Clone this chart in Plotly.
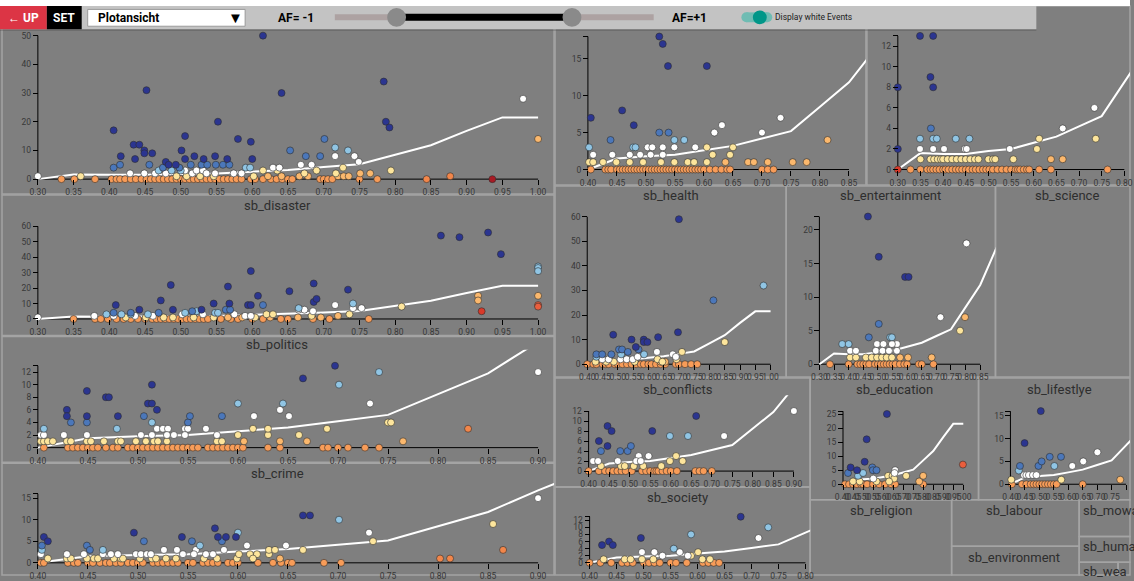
import plotly.graph_objects as go

W, H = 1134, 581

# ---------------- data ----------------
# trend curve shared by all panels
TREND_X = [0.30, 0.35, 0.40, 0.45, 0.50, 0.55, 0.60, 0.65, 0.70, 0.75, 0.80, 0.85, 0.90, 0.95, 1.00]
TREND_Y = [0.0, 1.6, 1.5, 1.5, 1.8, 2.0, 2.6, 3.2, 4.2, 5.2, 8.5, 11.8, 16.8, 21.5, 21.5]

# points as (x, y, colour class); *_ZERO lists hold the orange events at y = 0
TL_PTS = [
    (0.406, 17, 'n'), (0.416, 8, 'n'), (0.434, 12, 'n'), (0.436, 7, 'n'), (0.442, 12, 'n'), (0.449, 10, 'n'),
    (0.449, 9, 'n'), (0.452, 31, 'n'), (0.460, 9, 'n'), (0.479, 6, 'n'), (0.483, 5, 'n'), (0.493, 5, 'n'),
    (0.501, 10, 'n'), (0.506, 15, 'n'), (0.506, 7, 'n'), (0.519, 8, 'n'), (0.532, 7, 'n'), (0.548, 8, 'n'),
    (0.552, 20, 'n'), (0.565, 7, 'n'), (0.580, 14, 'n'), (0.598, 13, 'n'), (0.600, 7, 'n'), (0.615, 50, 'n'),
    (0.641, 30, 'n'), (0.784, 34, 'n'), (0.787, 20, 'n'), (0.792, 18, 'n'),
    (0.406, 4, 'b'), (0.415, 5, 'b'), (0.456, 5, 'b'), (0.475, 4, 'b'), (0.498, 4, 'b'), (0.514, 5, 'b'),
    (0.529, 5, 'b'), (0.537, 5, 'b'), (0.549, 5, 'b'), (0.559, 5, 'b'), (0.568, 5, 'b'), (0.653, 10, 'b'),
    (0.675, 8, 'b'), (0.695, 8, 'b'), (0.701, 14, 'b'),
    (0.469, 3, 'l'), (0.487, 3, 'l'), (0.500, 3, 'l'), (0.591, 4, 'l'), (0.597, 4, 'l'), (0.716, 11, 'l'), (0.734, 10, 'l'),
    (0.300, 1, 'w'), (0.429, 2, 'w'), (0.449, 2, 'w'), (0.464, 2, 'w'), (0.479, 2, 'w'), (0.506, 3, 'w'),
    (0.516, 2, 'w'), (0.522, 3, 'w'), (0.531, 3, 'w'), (0.536, 2, 'w'), (0.548, 2, 'w'), (0.574, 2, 'w'),
    (0.585, 2, 'w'), (0.629, 4, 'w'), (0.638, 4, 'w'), (0.668, 5, 'w'), (0.683, 5, 'w'), (0.716, 8, 'w'),
    (0.743, 8, 'w'), (0.749, 6, 'w'), (0.979, 28, 'w'),
    (0.360, 1, 'y'), (0.494, 1, 'y'), (0.508, 1, 'y'), (0.527, 1, 'y'), (0.546, 1, 'y'), (0.602, 1, 'y'),
    (0.615, 3, 'y'), (0.635, 3, 'y'), (0.673, 2, 'y'), (0.690, 3, 'y'), (0.717, 2, 'y'), (0.727, 4, 'y'), (0.794, 3, 'y'),
    (0.622, 1, 'p'), (0.641, 1, 'p'), (0.666, 1, 'p'), (0.678, 1, 'p'), (0.720, 1, 'p'), (0.728, 1, 'p'),
    (0.735, 1, 'p'), (0.751, 2, 'p'), (0.765, 2, 'p'), (1.000, 14, 'p'),
    (0.844, 0, 'q'), (0.877, 1, 'q'), (0.936, 0, 'D'),
]
TL_ZERO = [0.333, 0.351, 0.380, 0.403, 0.410, 0.415, 0.422, 0.430, 0.437, 0.445, 0.452, 0.458, 0.464, 0.470,
           0.476, 0.482, 0.488, 0.494, 0.500, 0.506, 0.512, 0.518, 0.524, 0.530, 0.536, 0.542, 0.548, 0.554,
           0.560, 0.566, 0.572, 0.578, 0.585, 0.598, 0.604, 0.615, 0.626, 0.634, 0.642, 0.650, 0.656, 0.695,
           0.700, 0.706, 0.712, 0.750, 0.775]

DISASTER_PTS = [
    (0.409, 9, 'n'), (0.442, 6, 'n'), (0.472, 12, 'n'), (0.486, 22, 'n'), (0.489, 6, 'n'), (0.529, 6, 'n'),
    (0.546, 10, 'n'), (0.566, 21, 'n'), (0.568, 10, 'n'), (0.594, 9, 'n'), (0.598, 9, 'n'), (0.598, 31, 'n'),
    (0.608, 15, 'n'), (0.652, 18, 'n'), (0.686, 23, 'n'), (0.686, 11, 'n'), (0.690, 13, 'n'), (0.734, 19, 'n'),
    (0.864, 54, 'n'), (0.890, 53, 'n'), (0.930, 56, 'n'), (0.948, 42, 'n'),
    (0.406, 4, 'b'), (0.430, 4, 'b'), (0.469, 4, 'b'), (0.516, 5, 'b'), (0.563, 6, 'b'), (0.569, 6, 'b'), (0.615, 9, 'b'),
    (0.396, 3, 'l'), (0.417, 3, 'l'), (0.430, 3, 'l'), (0.454, 3, 'l'), (0.506, 4, 'l'), (0.522, 5, 'l'),
    (0.548, 4, 'l'), (0.552, 4, 'l'), (0.665, 7, 'l'), (0.741, 10, 'l'), (1.000, 34, 'l'), (1.000, 33, 'l'), (1.000, 31, 'l'),
    (0.300, 1, 'w'), (0.379, 2, 'w'), (0.406, 2, 'w'), (0.436, 2, 'w'), (0.461, 2, 'w'), (0.502, 3, 'w'),
    (0.531, 3, 'w'), (0.575, 3, 'w'), (0.590, 2, 'w'), (0.598, 2, 'w'), (0.665, 6, 'w'), (0.673, 6, 'w'),
    (0.685, 5, 'w'), (0.716, 9, 'w'), (0.741, 7, 'w'), (0.753, 7, 'w'),
    (0.423, 1, 'y'), (0.451, 1, 'y'), (0.476, 1, 'y'), (0.489, 1, 'y'), (0.518, 1, 'y'), (0.546, 1, 'y'),
    (0.604, 1, 'y'), (0.620, 3, 'y'), (0.629, 3, 'y'), (0.683, 2, 'y'), (0.736, 3, 'y'), (0.809, 8, 'y'),
    (0.566, 1, 'p'), (0.586, 1, 'p'), (0.625, 1, 'p'), (0.664, 1, 'p'), (0.696, 1, 'p'), (0.720, 2, 'p'),
    (0.916, 15, 'p'), (0.916, 12, 'p'), (1.000, 15, 'p'),
    (1.000, 9, 'r'), (1.000, 8, 'r'), (0.921, 5, 'R'),
]
DISASTER_ZERO = [0.350, 0.380, 0.388, 0.398, 0.410, 0.420, 0.430, 0.440, 0.450, 0.460, 0.466, 0.472, 0.478,
                 0.484, 0.490, 0.496, 0.502, 0.508, 0.514, 0.520, 0.526, 0.532, 0.538, 0.556, 0.570, 0.580,
                 0.600, 0.615, 0.640, 0.650, 0.685, 0.708, 0.763]

POLITICS_PTS = [
    (0.429, 6, 'n'), (0.429, 5, 'n'), (0.449, 9, 'n'), (0.449, 5, 'n'), (0.468, 8, 'n'), (0.471, 8, 'n'),
    (0.480, 5, 'n'), (0.510, 7, 'n'), (0.514, 7, 'n'), (0.514, 10, 'n'), (0.519, 6, 'n'), (0.665, 11, 'n'), (0.697, 13, 'n'),
    (0.433, 4, 'b'), (0.449, 4, 'b'), (0.506, 5, 'b'), (0.550, 4, 'b'), (0.552, 5, 'b'), (0.584, 5, 'b'),
    (0.406, 3, 'l'), (0.479, 3, 'l'), (0.514, 4, 'l'), (0.600, 7, 'l'), (0.645, 7, 'l'), (0.701, 10, 'l'), (0.741, 12, 'l'),
    (0.403, 2, 'w'), (0.406, 2, 'w'), (0.426, 2, 'w'), (0.449, 2, 'w'), (0.503, 2, 'w'), (0.514, 2, 'w'),
    (0.519, 3, 'w'), (0.525, 3, 'w'), (0.530, 3, 'w'), (0.529, 2, 'w'), (0.536, 2, 'w'), (0.547, 3, 'w'),
    (0.550, 3, 'w'), (0.547, 2, 'w'), (0.568, 3, 'w'), (0.579, 2, 'w'), (0.616, 5, 'w'), (0.642, 6, 'w'),
    (0.651, 5, 'w'), (0.732, 7, 'w'), (0.900, 12, 'w'),
    (0.403, 1, 'y'), (0.406, 1, 'y'), (0.410, 1, 'y'), (0.415, 1, 'y'), (0.429, 1, 'y'), (0.433, 1, 'y'),
    (0.449, 1, 'y'), (0.453, 1, 'y'), (0.466, 1, 'y'), (0.480, 1, 'y'), (0.483, 1, 'y'), (0.498, 1, 'y'),
    (0.508, 1, 'y'), (0.516, 1, 'y'), (0.520, 1, 'y'), (0.529, 1, 'y'), (0.579, 1, 'y'), (0.584, 1, 'y'),
    (0.600, 2, 'y'), (0.615, 3, 'y'), (0.630, 2, 'y'), (0.630, 3, 'y'), (0.661, 2, 'y'), (0.689, 3, 'y'),
    (0.750, 4, 'y'), (0.753, 4, 'y'),
    (0.606, 1, 'p'), (0.642, 1, 'p'), (0.669, 1, 'p'), (0.765, 1, 'p'), (0.830, 3, 'q'),
]
POLITICS_ZERO = [0.406, 0.430, 0.435, 0.440, 0.445, 0.450, 0.455, 0.460, 0.468, 0.475, 0.480, 0.490, 0.495,
                 0.500, 0.505, 0.510, 0.515, 0.520, 0.525, 0.530, 0.535, 0.540, 0.545, 0.550, 0.555, 0.560,
                 0.570, 0.575, 0.580, 0.585, 0.590, 0.595, 0.600, 0.605, 0.630, 0.642, 0.685, 0.690, 0.700,
                 0.710, 0.727, 0.741]

CRIME_PTS = [
    (0.406, 6, 'n'), (0.410, 5, 'n'), (0.496, 7, 'n'), (0.544, 6, 'n'), (0.577, 8, 'n'), (0.580, 6, 'n'),
    (0.588, 6, 'n'), (0.598, 6, 'n'), (0.665, 11, 'n'), (0.672, 11, 'n'),
    (0.404, 4, 'b'), (0.449, 4, 'b'), (0.452, 3, 'b'), (0.506, 5, 'b'), (0.554, 5, 'b'), (0.584, 5, 'b'),
    (0.404, 3, 'l'), (0.465, 3, 'l'), (0.562, 4, 'l'), (0.600, 7, 'l'), (0.701, 10, 'l'),
    (0.403, 2, 'w'), (0.429, 2, 'w'), (0.446, 2, 'w'), (0.465, 2, 'w'), (0.473, 2, 'w'), (0.480, 2, 'w'),
    (0.498, 2, 'w'), (0.503, 2, 'w'), (0.509, 2, 'w'), (0.513, 2, 'w'), (0.526, 3, 'w'), (0.539, 3, 'w'),
    (0.545, 2, 'w'), (0.558, 3, 'w'), (0.556, 2, 'w'), (0.568, 2, 'w'), (0.575, 2, 'w'), (0.586, 3, 'w'),
    (0.609, 4, 'w'), (0.648, 4, 'w'), (0.731, 7, 'w'), (0.900, 15, 'w'),
    (0.410, 1, 'y'), (0.429, 1, 'y'), (0.433, 1, 'y'), (0.449, 1, 'y'), (0.456, 1, 'y'), (0.460, 1, 'y'),
    (0.476, 1, 'y'), (0.483, 1, 'y'), (0.485, 1, 'y'), (0.502, 1, 'y'), (0.514, 1, 'y'), (0.518, 1, 'y'),
    (0.528, 1, 'y'), (0.538, 1, 'y'), (0.566, 1, 'y'), (0.579, 1, 'y'), (0.599, 1, 'y'), (0.601, 2, 'y'),
    (0.612, 2, 'y'), (0.619, 2, 'y'), (0.615, 1, 'y'), (0.631, 2, 'y'), (0.631, 3, 'y'), (0.637, 3, 'y'),
    (0.665, 3, 'y'), (0.735, 5, 'y'), (0.855, 9, 'y'),
    (0.642, 1, 'p'), (0.802, 1, 'q'), (0.812, 1, 'q'), (0.865, 3, 'q'),
]
CRIME_ZERO = [0.403, 0.406, 0.430, 0.436, 0.440, 0.450, 0.455, 0.462, 0.468, 0.472, 0.478, 0.483, 0.490,
              0.495, 0.500, 0.505, 0.515, 0.520, 0.525, 0.530, 0.535, 0.540, 0.550, 0.555, 0.565, 0.570,
              0.575, 0.580, 0.590, 0.595, 0.600, 0.620, 0.635, 0.643, 0.650, 0.654, 0.686, 0.703]

TM_PTS = [
    (0.405, 7, 'n'), (0.459, 8, 'n'), (0.479, 6, 'n'), (0.523, 18, 'n'), (0.529, 17, 'n'), (0.538, 14, 'n'), (0.605, 14, 'n'),
    (0.439, 4, 'b'), (0.523, 5, 'b'), (0.539, 5, 'b'),
    (0.402, 3, 'l'), (0.478, 3, 'l'), (0.482, 3, 'l'), (0.549, 4, 'l'), (0.566, 4, 'l'),
    (0.409, 2, 'w'), (0.442, 2, 'w'), (0.472, 2, 'w'), (0.490, 2, 'w'), (0.503, 3, 'w'), (0.511, 3, 'w'),
    (0.508, 2, 'w'), (0.529, 3, 'w'), (0.529, 2, 'w'), (0.549, 3, 'w'), (0.585, 3, 'w'), (0.618, 5, 'w'),
    (0.631, 6, 'w'), (0.700, 5, 'w'), (0.732, 7, 'w'),
    (0.402, 1, 'y'), (0.409, 1, 'y'), (0.426, 1, 'y'), (0.449, 1, 'y'), (0.472, 1, 'y'), (0.495, 1, 'y'),
    (0.526, 1, 'y'), (0.549, 1, 'y'), (0.572, 1, 'y'), (0.583, 1, 'y'), (0.605, 3, 'y'), (0.605, 1, 'y'),
    (0.615, 2, 'y'), (0.645, 2, 'y'), (0.650, 3, 'y'),
    (0.637, 1, 'p'), (0.676, 1, 'p'), (0.686, 1, 'p'), (0.710, 1, 'p'), (0.753, 1, 'p'), (0.777, 1, 'p'), (0.813, 4, 'p'),
]
TM_ZERO = [0.405, 0.430, 0.435, 0.440, 0.450, 0.455, 0.460, 0.465, 0.470, 0.475, 0.480, 0.485, 0.490, 0.495,
           0.500, 0.505, 0.510, 0.515, 0.520, 0.525, 0.530, 0.535, 0.540, 0.545, 0.550, 0.555, 0.560, 0.565,
           0.570, 0.575, 0.580, 0.585, 0.590, 0.595, 0.600, 0.610, 0.620, 0.630, 0.640, 0.645, 0.700, 0.710, 0.720]

TR_PTS = [
    (0.300, 8, 'n'), (0.300, 2, 'n'), (0.349, 13, 'n'), (0.378, 13, 'n'), (0.372, 9, 'n'), (0.378, 8, 'n'),
    (0.373, 4, 'b'),
    (0.349, 3, 'l'), (0.378, 3, 'l'), (0.386, 3, 'l'), (0.428, 3, 'l'), (0.458, 3, 'l'),
    (0.349, 2, 'w'), (0.378, 2, 'w'), (0.402, 2, 'w'), (0.448, 2, 'w'), (0.452, 2, 'w'), (0.547, 2, 'w'),
    (0.664, 4, 'w'), (0.734, 6, 'w'),
    (0.350, 1, 'y'), (0.372, 1, 'y'), (0.380, 1, 'y'), (0.388, 1, 'y'), (0.395, 1, 'y'), (0.400, 1, 'y'),
    (0.410, 1, 'y'), (0.420, 1, 'y'), (0.430, 1, 'y'), (0.440, 1, 'y'), (0.450, 1, 'y'), (0.460, 1, 'y'),
    (0.470, 1, 'y'), (0.478, 1, 'y'), (0.500, 1, 'y'), (0.510, 1, 'y'), (0.515, 1, 'y'), (0.555, 1, 'y'),
    (0.607, 2, 'y'), (0.612, 3, 'y'), (0.737, 3, 'y'),
    (0.638, 1, 'p'), (0.664, 1, 'p'), (0.300, 0, 'R'),
]
TR_ZERO = [0.328, 0.350, 0.365, 0.372, 0.378, 0.385, 0.392, 0.400, 0.405, 0.412, 0.420, 0.428, 0.435, 0.442,
           0.450, 0.457, 0.465, 0.472, 0.480, 0.488, 0.495, 0.502, 0.510, 0.520, 0.530, 0.540, 0.550, 0.560,
           0.565, 0.570, 0.578, 0.585, 0.590, 0.612, 0.638, 0.763]

HEALTH_PTS = [
    (0.485, 12, 'n'), (0.545, 10, 'n'), (0.559, 7, 'n'), (0.585, 10, 'n'), (0.585, 9, 'n'), (0.597, 9, 'n'),
    (0.632, 11, 'n'), (0.697, 13, 'n'), (0.700, 59, 'n'),
    (0.504, 6, 'b'), (0.514, 6, 'b'), (0.533, 5, 'b'), (0.568, 6, 'b'), (0.430, 4, 'b'), (0.449, 4, 'b'),
    (0.479, 4, 'b'), (0.813, 26, 'b'),
    (0.430, 3, 'l'), (0.511, 4, 'l'), (0.586, 4, 'l'), (0.977, 32, 'l'),
    (0.449, 2, 'w'), (0.470, 2, 'w'), (0.509, 2, 'w'), (0.529, 2, 'w'), (0.549, 2, 'w'), (0.565, 3, 'w'),
    (0.628, 5, 'w'), (0.680, 4, 'w'), (0.690, 3, 'w'),
    (0.427, 1, 'y'), (0.462, 1, 'y'), (0.487, 1, 'y'), (0.555, 1, 'y'), (0.630, 2, 'y'), (0.646, 1, 'y'),
    (0.710, 5, 'y'), (0.692, 2, 'y'), (0.850, 9, 'y'),
    (0.640, 1, 'p'), (0.655, 1, 'p'),
]
HEALTH_ZERO = [0.400, 0.420, 0.430, 0.450, 0.460, 0.470, 0.490, 0.500, 0.515, 0.530, 0.545, 0.560, 0.575,
               0.585, 0.600, 0.610, 0.625, 0.640, 0.655, 0.690, 0.700, 0.720, 0.740, 0.760]

ENT_PTS = [
    (0.466, 22, 'n'), (0.503, 16, 'n'), (0.593, 13, 'n'), (0.605, 13, 'n'),
    (0.503, 6, 'b'), (0.469, 4, 'b'),
    (0.378, 3, 'l'), (0.400, 3, 'l'), (0.542, 4, 'l'), (0.548, 4, 'l'),
    (0.405, 2, 'w'), (0.425, 2, 'w'), (0.497, 3, 'w'), (0.519, 3, 'w'), (0.493, 2, 'w'), (0.516, 2, 'w'),
    (0.538, 2, 'w'), (0.565, 3, 'w'), (0.565, 2, 'w'), (0.548, 3, 'w'), (0.714, 7, 'w'), (0.803, 18, 'w'),
    (0.405, 1, 'y'), (0.425, 1, 'y'), (0.459, 1, 'y'), (0.479, 1, 'y'), (0.497, 1, 'y'), (0.514, 1, 'y'),
    (0.530, 1, 'y'), (0.548, 1, 'y'), (0.781, 5, 'y'),
    (0.576, 1, 'p'), (0.603, 1, 'p'), (0.684, 1, 'p'), (0.798, 7, 'p'),
]
ENT_ZERO = [0.336, 0.400, 0.430, 0.440, 0.450, 0.460, 0.470, 0.490, 0.500, 0.510, 0.520, 0.530, 0.540,
            0.550, 0.560, 0.575, 0.590, 0.600, 0.640, 0.650, 0.690]

CONFLICTS_PTS = [
    (0.425, 6, 'n'), (0.446, 9, 'n'), (0.446, 5, 'n'), (0.456, 8, 'n'), (0.555, 8, 'n'), (0.662, 11, 'n'),
    (0.430, 4, 'b'), (0.477, 4, 'b'), (0.495, 4, 'b'), (0.503, 5, 'b'),
    (0.598, 7, 'l'), (0.642, 7, 'l'),
    (0.411, 2, 'w'), (0.423, 2, 'w'), (0.471, 2, 'w'), (0.522, 3, 'w'), (0.516, 2, 'w'), (0.527, 2, 'w'),
    (0.546, 3, 'w'), (0.730, 7, 'w'), (0.900, 12, 'w'),
    (0.430, 1, 'y'), (0.479, 1, 'y'), (0.488, 1, 'y'), (0.510, 1, 'y'), (0.533, 1, 'y'), (0.577, 1, 'y'),
    (0.598, 2, 'y'), (0.613, 3, 'y'), (0.629, 2, 'y'),
]
CONFLICTS_ZERO = [0.400, 0.425, 0.440, 0.450, 0.460, 0.470, 0.480, 0.490, 0.505, 0.530, 0.540, 0.550, 0.560,
                  0.565, 0.570, 0.580, 0.590, 0.600, 0.615, 0.660, 0.670, 0.680, 0.700]

SOCIETY_PTS = [
    (0.423, 5, 'n'), (0.436, 6, 'n'), (0.443, 5, 'n'), (0.495, 7, 'n'), (0.680, 13, 'n'),
    (0.556, 4, 'l'), (0.588, 8, 'l'), (0.731, 10, 'l'),
    (0.497, 3, 'w'), (0.520, 3, 'w'), (0.535, 2, 'w'), (0.567, 3, 'w'), (0.582, 2, 'w'), (0.713, 7, 'w'),
    (0.426, 1, 'y'), (0.465, 1, 'y'), (0.476, 1, 'y'), (0.497, 1, 'y'), (0.518, 1, 'y'), (0.588, 2, 'y'),
    (0.601, 3, 'y'), (0.609, 1, 'y'), (0.623, 1, 'y'),
]
SOCIETY_ZERO = [0.400, 0.420, 0.440, 0.460, 0.470, 0.480, 0.500, 0.510, 0.520, 0.530, 0.550, 0.560, 0.580,
                0.610, 0.620, 0.630, 0.640]

EDUCATION_PTS = [
    (0.438, 6, 'n'), (0.470, 5, 'n'), (0.508, 8, 'n'), (0.518, 16, 'n'), (0.619, 25, 'n'),
    (0.425, 4, 'b'), (0.546, 6, 'b'), (0.549, 5, 'b'), (0.567, 5, 'b'),
    (0.475, 3, 'l'), (0.500, 4, 'l'),
    (0.551, 2, 'w'), (0.660, 5, 'w'), (0.657, 4, 'w'),
    (0.450, 1, 'y'), (0.483, 1, 'y'), (0.625, 3, 'y'), (0.647, 3, 'y'), (0.655, 2, 'y'), (0.715, 3, 'y'),
    (0.567, 1, 'y'), (0.630, 1, 'y'),
    (0.780, 1, 'p'), (0.800, 3, 'p'), (0.998, 7, 'r'),
]
EDUCATION_ZERO = [0.410, 0.430, 0.450, 0.470, 0.490, 0.500, 0.520, 0.550, 0.580, 0.610, 0.640, 0.660, 0.800]

LIFESTYLE_PTS = [
    (0.449, 9, 'n'), (0.505, 16, 'n'),
    (0.433, 4, 'b'), (0.497, 4, 'b'), (0.508, 5, 'b'), (0.536, 6, 'b'), (0.575, 6, 'b'),
    (0.429, 3, 'l'), (0.552, 4, 'l'),
    (0.447, 2, 'w'), (0.455, 2, 'w'), (0.464, 2, 'w'), (0.478, 2, 'w'), (0.490, 2, 'w'), (0.614, 4, 'w'),
    (0.652, 5, 'w'), (0.701, 7, 'w'),
    (0.403, 1, 'y'), (0.576, 1, 'y'), (0.780, 1, 'p'),
]
LIFESTYLE_ZERO = [0.405, 0.440, 0.455, 0.470, 0.480, 0.490, 0.500, 0.510, 0.520, 0.530, 0.540, 0.550, 0.560, 0.650]

# ---------------- styling ----------------
CLS_COLOR = {'o': '#f89c58', 'q': '#f2864a', 'p': '#fbb86d', 'y': '#fde59c', 'w': '#ffffff',
             'l': '#90c5e4', 'b': '#4b77ba', 'n': '#2b3590', 'r': '#ea5e3d', 'R': '#d93a2a', 'D': '#a81a24'}
CLS_ORDER = ['o', 'q', 'p', 'y', 'w', 'l', 'b', 'n', 'r', 'R', 'D']

BG = '#7f7f7f'
BORDER = '#a4a4a4'
FONT = 'Roboto'

# plot panels: panel rect (px), clip top, x axis pixels, y axis pixels (y=0, y=ymax)
PLOTS = [
    dict(pts=TL_PTS, zero=TL_ZERO, rect=(2, 6, 556, 196), clip=29, ax=(38, 540), ay=(181, 36),
         xr=(0.30, 1.00), ymax=50, ystep=10, title=None),
    dict(pts=DISASTER_PTS, zero=DISASTER_ZERO, rect=(2, 197, 556, 339), clip=213, ax=(38, 540), ay=(322.3, 228.7),
         xr=(0.30, 1.00), ymax=60, ystep=10, title='sb_disaster'),
    dict(pts=POLITICS_PTS, zero=POLITICS_ZERO, rect=(2, 340, 556, 467), clip=353.5, ax=(38, 540), ay=(452.3, 369.6),
         xr=(0.40, 0.90), ymax=13, ystep=2, title='sb_politics'),
    dict(pts=CRIME_PTS, zero=CRIME_ZERO, rect=(2, 468, 556, 581), clip=483.5, ax=(38, 540), ay=(568.7, 499.0),
         xr=(0.40, 0.90), ymax=16, ystep=5, title='sb_crime'),
    dict(pts=TM_PTS, zero=TM_ZERO, rect=(557, 6, 869, 187), clip=29, ax=(590, 852), ay=(171.3, 36.9),
         xr=(0.40, 0.85), ymax=18, ystep=5, title=None),
    dict(pts=TR_PTS, zero=TR_ZERO, rect=(870, 6, 1134, 187), clip=29, ax=(901, 1128.3), ay=(171.3, 36.3),
         xr=(0.30, 0.80), ymax=13, ystep=2, title=None),
    dict(pts=HEALTH_PTS, zero=HEALTH_ZERO, rect=(557, 188, 789, 381), clip=204, ax=(589.3, 773.3), ay=(368, 219),
         xr=(0.40, 1.00), ymax=60, ystep=10, title='sb_health'),
    dict(pts=ENT_PTS, zero=ENT_ZERO, rect=(789, 188, 999, 381), clip=204, ax=(822.3, 983.7), ay=(368, 218.8),
         xr=(0.30, 0.85), ymax=22, ystep=5, title='sb_entertainment'),
    dict(pts=CONFLICTS_PTS, zero=CONFLICTS_ZERO, rect=(557, 382, 813, 492), clip=399.5, ax=(590.7, 796.7), ay=(476, 415.3),
         xr=(0.40, 0.90), ymax=12, ystep=2, title='sb_conflicts'),
    dict(pts=SOCIETY_PTS, zero=SOCIETY_ZERO, rect=(557, 492, 813, 581), clip=508, ax=(591.7, 808.3), ay=(568.7, 522.1),
         xr=(0.40, 0.80), ymax=13, ystep=2, title='sb_society'),
    dict(pts=EDUCATION_PTS, zero=EDUCATION_ZERO, rect=(813, 382, 982, 505), clip=399.5, ax=(846, 966.7), ay=(489.3, 415.5),
         xr=(0.40, 1.00), ymax=26, ystep=5, title='sb_education'),
    dict(pts=LIFESTYLE_PTS, zero=LIFESTYLE_ZERO, rect=(982, 382, 1134, 505), clip=399.5, ax=(1014, 1130), ay=(489.3, 415.4),
         xr=(0.40, 0.80), ymax=16, ystep=5, title='sb_lifestlye'),
]

TITLE_POS = {'sb_disaster': (278, 207.5), 'sb_politics': (278, 348.5), 'sb_crime': (278, 478),
             'sb_health': (673, 198), 'sb_entertainment': (894, 198), 'sb_conflicts': (680, 394),
             'sb_society': (680, 502.5), 'sb_education': (898, 394), 'sb_lifestlye': (1063, 394)}

# empty treemap cells: rect and title
EMPTY_CELLS = [
    ((999, 188, 1134, 381), 'sb_science', (1071, 198), 'center'),
    ((813, 505, 955, 581), 'sb_religion', (884, 516), 'center'),
    ((955, 505, 1083, 552), 'sb_labour', (1018, 516), 'center'),
    ((955, 552, 1083, 581), 'sb_environment', (1018, 563), 'center'),
    ((1083, 505, 1134, 542), 'sb_mowa', (1085, 516), 'left'),
    ((1083, 542, 1134, 568), 'sb_huma', (1085, 552), 'left'),
    ((1083, 568, 1122, 581), 'sb_wea', (1085, 577.5), 'left'),
    ((1122, 568, 1134, 581), '', (0, 0), 'left'),
]


def fx(x):
    return x / W


def fy(y):
    return 1 - y / H


fig = go.Figure()
shapes = []
annotations = []
layout_axes = {}

for i, p in enumerate(PLOTS, start=1):
    sx = '' if i == 1 else str(i)
    x0, y0, x1, y1 = p['rect']
    cy0 = p['clip']
    ax0, ax1 = p['ax']
    ay0, ayt = p['ay']
    xmin, xmax = p['xr']
    ymax = p['ymax']
    kx = (xmax - xmin) / (ax1 - ax0)
    ky = ymax / (ay0 - ayt)
    xrange = [xmin + (x0 - ax0) * kx, xmin + (x1 - ax0) * kx]
    yrange = [(ay0 - y1) * ky, (ay0 - cy0) * ky]

    nx = int(round((xmax - xmin) / 0.05))
    xt = [round(xmin + 0.05 * k, 2) for k in range(nx + 1)]
    yt = list(range(0, int(ymax) + 1, p['ystep']))
    ytt = [str(v) for v in yt]
    if yt[-1] != ymax:
        yt.append(ymax)
        ytt.append('')

    common = dict(showgrid=False, zeroline=False, showline=False, ticks='outside', ticklen=5,
                  tickwidth=1, tickcolor='#000000', tickfont=dict(family=FONT, size=8.5, color='#383838'),
                  tickmode='array', fixedrange=True, anchor='free')
    layout_axes['xaxis' + sx] = dict(common, domain=[fx(x0), fx(x1)], range=xrange, position=fy(ay0),
                                     tickvals=xt, ticktext=[f'{v:.2f}' for v in xt], tickangle=0)
    layout_axes['yaxis' + sx] = dict(common, domain=[fy(y1), fy(cy0)], range=yrange, position=fx(ax0),
                                     tickvals=yt, ticktext=ytt)

    xref, yref = 'x' + sx, 'y' + sx
    # axis domain lines
    shapes.append(dict(type='line', xref=xref, yref=yref, x0=xmin, x1=xmax, y0=0, y1=0,
                       line=dict(color='#000000', width=1), layer='below'))
    shapes.append(dict(type='line', xref=xref, yref=yref, x0=xmin, x1=xmin, y0=0, y1=ymax,
                       line=dict(color='#000000', width=1), layer='below'))

    # white trend line
    lx = [xmin] + [x for x in TREND_X if x > xmin + 1e-9]
    ly = [0.0] + [y for x, y in zip(TREND_X, TREND_Y) if x > xmin + 1e-9]
    fig.add_trace(go.Scatter(x=lx, y=ly, mode='lines', xaxis=xref, yaxis=yref,
                             line=dict(color='#ffffff', width=2), hoverinfo='skip', showlegend=False))

    # events
    pts = [(x, 0, 'o') for x in p['zero']] + list(p['pts'])
    pts.sort(key=lambda t: CLS_ORDER.index(t[2]))
    fig.add_trace(go.Scatter(
        x=[t[0] for t in pts], y=[t[1] for t in pts], mode='markers', xaxis=xref, yaxis=yref,
        marker=dict(size=7, color=[CLS_COLOR[t[2]] for t in pts],
                    line=dict(color='rgba(45,45,45,0.75)', width=0.8)),
        hoverinfo='skip', showlegend=False))

    shapes.append(dict(type='rect', xref='paper', yref='paper', x0=fx(x0), x1=fx(x1), y0=fy(y1), y1=fy(y0),
                       line=dict(color=BORDER, width=1.5), fillcolor='rgba(0,0,0,0)', layer='below'))
    if p['title']:
        tx, ty = TITLE_POS[p['title']]
        annotations.append(dict(x=fx(tx), y=fy(ty), xref='paper', yref='paper', text=p['title'],
                                showarrow=False, xanchor='center', yanchor='middle',
                                font=dict(family=FONT, size=13, color='#2e2e2e')))

for rect, name, (tx, ty), anchor in EMPTY_CELLS:
    x0, y0, x1, y1 = rect
    shapes.append(dict(type='rect', xref='paper', yref='paper', x0=fx(x0), x1=fx(x1), y0=fy(y1), y1=fy(y0),
                       line=dict(color=BORDER, width=1.5), fillcolor='rgba(0,0,0,0)', layer='below'))
    if name:
        annotations.append(dict(x=fx(tx), y=fy(ty), xref='paper', yref='paper', text=name,
                                showarrow=False, xanchor=anchor, yanchor='middle',
                                font=dict(family=FONT, size=13, color='#2e2e2e')))


# ---------------- toolbar ----------------
def rect(x0, y0, x1, y1, fill, line=None, ltype='rect'):
    return dict(type=ltype, xref='paper', yref='paper', x0=fx(x0), x1=fx(x1), y0=fy(y1), y1=fy(y0),
                fillcolor=fill, line=dict(width=0 if line is None else 1, color=line or fill), layer='above')


shapes += [
    rect(0, 0, W, 6, '#ffffff'),
    rect(0, 29.5, 1040, 31, 'rgba(60,60,60,0.35)'),
    rect(0, 6, 1040, 29.5, '#c3c3c3'),
    rect(0, 6, 47, 29.5, '#dc3545'),
    rect(47, 6, 82, 29.5, '#000000'),
    rect(88, 9.5, 246, 26.5, '#ffffff', '#9a9a9a'),
    rect(336, 14.5, 656, 20.5, '#ada2a2'),
    rect(398, 14, 574, 21, '#000000'),
    rect(388.5, 8, 407.5, 27, '#8a8a8a', None, 'circle'),
    rect(564.5, 8, 583.5, 27, '#8a8a8a', None, 'circle'),
    rect(744, 12.5, 754, 22.5, '#6fbcb3', None, 'circle'),
    rect(749, 12.5, 770, 22.5, '#6fbcb3'),
    rect(765, 12.5, 775, 22.5, '#6fbcb3', None, 'circle'),
    rect(755.5, 10.5, 769.5, 24.5, '#009688', None, 'circle'),
]


def label(x, y, text, size=12, color='#000000', anchor='center', bold=True):
    return dict(x=fx(x), y=fy(y), xref='paper', yref='paper', showarrow=False, xanchor=anchor, yanchor='middle',
                text=f'<b>{text}</b>' if bold else text, font=dict(family=FONT, size=size, color=color))


annotations += [
    label(23.5, 18, '← UP', 12, '#ffffff'),
    label(64.5, 18, 'SET', 12, '#ffffff'),
    label(96, 18, 'Plotansicht', 12, '#000000', 'left'),
    label(236, 18, '▼', 15, '#000000', bold=False),
    label(297, 18, 'AF= -1', 12, '#000000'),
    label(692, 18, 'AF=+1', 12, '#000000'),
    label(776, 17.5, 'Display white Events', 8.5, '#222222', 'left', bold=False),
]

fig.update_layout(
    width=W, height=H, margin=dict(l=0, r=0, t=0, b=0),
    paper_bgcolor=BG, plot_bgcolor='rgba(0,0,0,0)',
    shapes=shapes, annotations=annotations, showlegend=False,
    font=dict(family=FONT),
    **layout_axes,
)

fig.write_html('out.html', config={'displayModeBar': False})
